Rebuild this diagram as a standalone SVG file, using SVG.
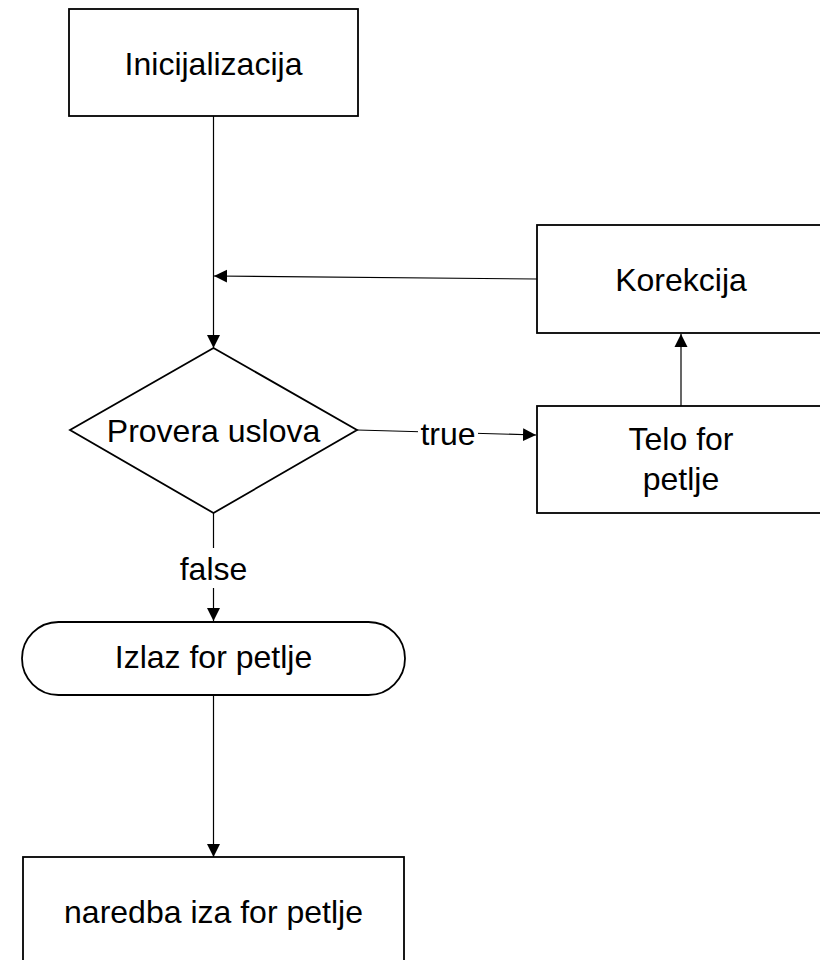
<svg xmlns="http://www.w3.org/2000/svg" width="820" height="960" viewBox="0 0 820 960">
  <style>
    .shape { fill: #ffffff; stroke: #000000; stroke-width: 1.8; }
    .conn { fill: none; stroke: #000000; stroke-width: 1.2; }
    .label { font-family: "Liberation Sans", Arial, sans-serif; font-size: 32px; fill: #000000; text-anchor: middle; }
    .bg { fill: #ffffff; stroke: none; }
  </style>
  <defs>
    <marker id="arrow" markerUnits="userSpaceOnUse" markerWidth="14" markerHeight="14" viewBox="0 0 14 14" refX="13" refY="7" orient="auto">
      <path d="M0,0.5 L13,7 L0,13.5 Z" fill="#000000"/>
    </marker>
  </defs>
  <rect width="820" height="960" fill="#ffffff"/>

  <!-- connectors -->
  <g id="connectors">
    <line class="conn" x1="213.5" y1="116" x2="213.5" y2="348" marker-end="url(#arrow)"/>
    <line class="conn" x1="537" y1="279" x2="214" y2="276" marker-end="url(#arrow)"/>
    <line class="conn" x1="681" y1="406" x2="681" y2="334" marker-end="url(#arrow)"/>
    <line class="conn" x1="357" y1="430" x2="536" y2="435" marker-end="url(#arrow)"/>
    <line class="conn" x1="213.5" y1="513" x2="213.5" y2="621" marker-end="url(#arrow)"/>
    <line class="conn" x1="213.5" y1="695" x2="213.5" y2="857" marker-end="url(#arrow)"/>
    <g id="label-true">
      <rect class="bg" x="418" y="418" width="60" height="34"/>
      <text class="label" x="448" y="445">true</text>
    </g>
    <g id="label-false">
      <rect class="bg" x="179" y="548" width="69" height="40"/>
      <text class="label" x="213.5" y="580">false</text>
    </g>
  </g>

  <g id="inicijalizacija">
    <rect class="shape" x="69" y="9" width="289" height="107"/>
    <text class="label" x="213.5" y="75">Inicijalizacija</text>
  </g>

  <g id="provera-uslova">
    <polygon class="shape" points="213.5,348 357,430 213.5,513 70,430"/>
    <text class="label" x="213.5" y="442">Provera uslova</text>
  </g>

  <g id="korekcija">
    <rect class="shape" x="537" y="225" width="300" height="108"/>
    <text class="label" x="681" y="291">Korekcija</text>
  </g>

  <g id="telo-for-petlje">
    <rect class="shape" x="537" y="406" width="300" height="107"/>
    <text class="label" x="681" y="450">Telo for</text>
    <text class="label" x="681" y="490">petlje</text>
  </g>

  <g id="izlaz-for-petlje">
    <rect class="shape" x="22" y="622" width="383" height="73" rx="36.5" ry="36.5"/>
    <text class="label" x="213.5" y="668">Izlaz for petlje</text>
  </g>

  <g id="naredba-iza-for-petlje">
    <rect class="shape" x="23" y="857" width="381" height="120"/>
    <text class="label" x="213.5" y="923">naredba iza for petlje</text>
  </g>
</svg>
